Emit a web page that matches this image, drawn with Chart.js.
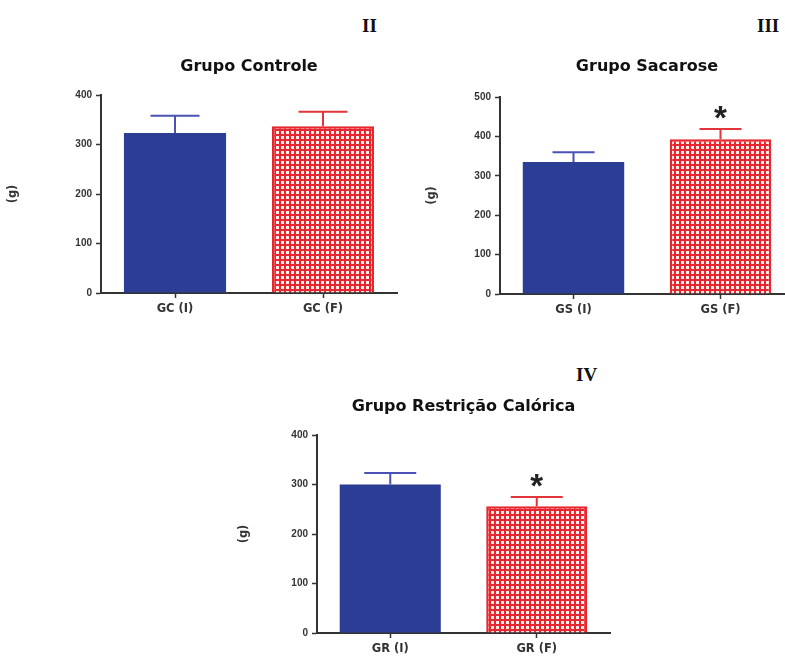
<!DOCTYPE html>
<html>
<head>
<meta charset="utf-8">
<script src="https://cdn.jsdelivr.net/npm/chart.js@4.4.0/dist/chart.umd.min.js"></script>
<style>
  html, body { margin: 0; padding: 0; background: #fff; overflow: hidden; }
  body { width: 785px; height: 656px; position: relative; }
  canvas { position: absolute; }
  .num { position: absolute; font-family: "Liberation Serif", "DejaVu Serif", serif; font-weight: bold; font-size: 19px; line-height: 1; color: #111; }
</style>
</head>
<body>
<div class="num" style="left:362px; top:16px;">II</div>
<div class="num" style="left:757px; top:16px;">III</div>
<div class="num" style="left:576px; top:365px;">IV</div>
<canvas id="controle" width="400" height="275" style="left:0px; top:50px;"></canvas>
<canvas id="sacarose" width="400" height="275" style="left:395px; top:50px;"></canvas>
<canvas id="restricao" width="400" height="266" style="left:220px; top:390px;"></canvas>
<script>
// data (g)
var ctrlLabels = ['GC (I)', 'GC (F)'];
var ctrlValues = [323, 337];
var ctrlErrors = [35, 29];
var ctrlMarks = ['', ''];

var sacLabels = ['GS (I)', 'GS (F)'];
var sacValues = [335, 393];
var sacErrors = [25, 26];
var sacMarks = ['', '*'];

var restLabels = ['GR (I)', 'GR (F)'];
var restValues = [300, 256];
var restErrors = [23, 19];
var restMarks = ['', '*'];

Chart.defaults.font.family = '"Liberation Sans", Arial, sans-serif';
Chart.defaults.color = '#333';
Chart.defaults.animation = false;

var blue = '#2c3d95';
var red = '#e8262d';
var wide = '"DejaVu Sans", "Liberation Sans", sans-serif';

function makePattern() {
    var c = document.createElement('canvas');
    c.width = 5;
    c.height = 5;
    var g = c.getContext('2d');
    g.fillStyle = red;
    g.fillRect(0, 0, 5, 5);
    g.fillStyle = '#fdeaea';
    g.fillRect(1, 1, 3, 3);
    return g.createPattern(c, 'repeat');
}
var checker = makePattern();

// positive SEM bar + cap, and the * above it
var errorBarsPlugin = {
    id: 'errorBars',
    afterDatasetsDraw: function (chart) {
        var ctx = chart.ctx;
        var ds = chart.data.datasets[0];
        var x = chart.scales.x, y = chart.scales.y;
        var half = ds.capWidth / 2;
        ds.data.forEach(function (v, i) {
            var px = x.getPixelForValue(i);
            var top = y.getPixelForValue(v);
            var errTop = y.getPixelForValue(v + ds.errors[i]);
            ctx.save();
            ctx.strokeStyle = ds.errorColors[i];
            ctx.lineWidth = 2;
            ctx.beginPath();
            ctx.moveTo(px, top);
            ctx.lineTo(px, errTop);
            ctx.moveTo(px - half, errTop);
            ctx.lineTo(px + half, errTop);
            ctx.stroke();
            if (ds.marks[i]) {
                ctx.fillStyle = '#222';
                ctx.font = 'bold 33px "Liberation Sans", Arial, sans-serif';
                ctx.textAlign = 'center';
                ctx.textBaseline = 'alphabetic';
                ctx.fillText(ds.marks[i], px, errTop);
            }
            ctx.restore();
        });
    }
};

// title centred over the plot area, not the canvas
var groupTitlePlugin = {
    id: 'groupTitle',
    afterDraw: function (chart) {
        var a = chart.chartArea;
        var ctx = chart.ctx;
        ctx.save();
        ctx.fillStyle = '#111';
        ctx.font = 'bold 16px ' + wide;
        ctx.textAlign = 'center';
        ctx.textBaseline = 'middle';
        ctx.fillText(chart.options.groupTitle, (a.left + a.right) / 2, a.top - chart.options.titleGap);
        ctx.restore();
    }
};

function barChart(id, title, labels, values, errors, marks, yMax, opt) {
    var ctx = document.getElementById(id);
    return new Chart(ctx, {
        type: 'bar',
        data: {
            labels: labels,
            datasets: [{
                data: values,
                errors: errors,
                marks: marks,
                capWidth: opt.cap,
                errorColors: ['#4a52b4', '#e0353a'],
                backgroundColor: [blue, checker],
                borderColor: [blue, red],
                borderWidth: [0, 2.5],
                borderSkipped: 'bottom',
                barPercentage: 0.69,
                categoryPercentage: 1
            }]
        },
        plugins: [errorBarsPlugin, groupTitlePlugin],
        options: {
            responsive: false,
            devicePixelRatio: 1,
            groupTitle: title,
            titleGap: opt.titleGap,
            layout: { padding: { top: opt.top, left: 0, right: opt.right, bottom: 0 } },
            plugins: {
                legend: { display: false },
                tooltip: { enabled: false },
                title: { display: false }
            },
            scales: {
                x: {
                    grid: { offset: false, drawOnChartArea: false, tickLength: 5, tickColor: '#333', tickWidth: 1.5 },
                    border: { color: '#333', width: 2 },
                    ticks: { font: { family: wide, size: 11.5, weight: 'bold' }, color: '#333', padding: 4 },
                    afterFit: function (s) { s.height = opt.xHeight; }
                },
                y: {
                    min: 0,
                    max: yMax,
                    ticks: { stepSize: 100, font: { size: 10, weight: 'bold' }, color: '#333', padding: 4 },
                    grid: { drawOnChartArea: false, tickLength: 5, tickColor: '#333', tickWidth: 1.5 },
                    border: { color: '#333', width: 2 },
                    title: { display: true, text: '(g)', color: '#333', font: { family: wide, size: 11.5, weight: 'bold' }, padding: { top: opt.gPad, bottom: 0 } },
                    afterFit: function (s) { s.width = opt.yWidth; }
                }
            }
        }
    });
}

var chart1 = barChart('controle', 'Grupo Controle', ctrlLabels, ctrlValues, ctrlErrors, ctrlMarks, 400,
    { top: 45, titleGap: 28, right: 3, xHeight: 32, yWidth: 101, gPad: 6, cap: 49 });
var chart2 = barChart('sacarose', 'Grupo Sacarose', sacLabels, sacValues, sacErrors, sacMarks, 500,
    { top: 47, titleGap: 30, right: 1, xHeight: 31, yWidth: 105, gPad: 30, cap: 42 });
var chart3 = barChart('restricao', 'Grupo Restrição Calórica', restLabels, restValues, restErrors, restMarks, 400,
    { top: 45, titleGap: 28, right: 10, xHeight: 23, yWidth: 97, gPad: 17, cap: 52 });
</script>
</body>
</html>
